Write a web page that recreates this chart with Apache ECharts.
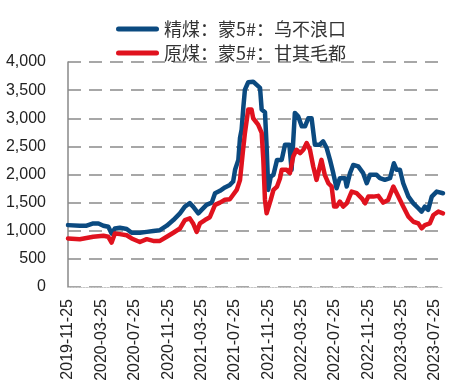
<!DOCTYPE html>
<html>
<head>
<meta charset="utf-8">
<script src="https://cdn.jsdelivr.net/npm/echarts@6/dist/echarts.min.js"></script>
<style>html,body{margin:0;padding:0;background:#fff}#c{width:450px;height:390px}</style>
</head>
<body>
<div id="c"></div>
<script>
var seriesNames = ['精煤：蒙5#：乌不浪口', '原煤：蒙5#：甘其毛都'];
var tickLabels = ['2019-11-25','2020-03-25','2020-07-25','2020-11-25','2021-03-25','2021-07-25','2021-11-25','2022-03-25','2022-07-25','2022-11-25','2023-03-25','2023-07-25'];
var axisStart = '2019-11-25';
var axisEnd = '2023-08-23';

var blueDates = ['2019-11-25','2020-01-07','2020-02-01','2020-02-25','2020-03-15','2020-04-02','2020-04-20','2020-05-02','2020-05-14','2020-06-01','2020-06-26','2020-07-14','2020-08-13','2020-09-07','2020-10-01','2020-10-25','2020-11-19','2020-12-13','2021-01-06','2021-01-24','2021-02-11','2021-02-23','2021-03-14','2021-03-26','2021-04-13','2021-05-02','2021-05-14','2021-06-01','2021-06-19','2021-07-07','2021-07-19','2021-07-26','2021-08-07','2021-08-13','2021-08-19','2021-08-25','2021-08-31','2021-09-12','2021-09-30','2021-10-04','2021-10-25','2021-10-31','2021-11-12','2021-11-18','2021-11-24','2021-12-03','2021-12-13','2021-12-26','2022-01-12','2022-01-24','2022-02-09','2022-02-17','2022-03-01','2022-03-13','2022-03-26','2022-04-07','2022-04-19','2022-05-01','2022-05-13','2022-05-31','2022-06-12','2022-06-25','2022-07-07','2022-07-19','2022-07-31','2022-08-12','2022-08-31','2022-09-06','2022-09-18','2022-09-30','2022-10-18','2022-11-05','2022-11-18','2022-11-30','2022-12-24','2023-01-05','2023-01-23','2023-02-11','2023-02-25','2023-03-07','2023-03-19','2023-03-31','2023-04-19','2023-05-07','2023-05-25','2023-06-06','2023-06-18','2023-06-30','2023-07-13','2023-07-31','2023-08-23'];
var blueVals = [1100,1090,1090,1130,1130,1090,1070,950,1040,1055,1030,965,965,980,995,1010,1090,1190,1310,1430,1490,1430,1310,1370,1460,1500,1667,1710,1770,1815,1875,2083,2260,2650,2800,3185,3510,3640,3650,3650,3540,3155,3107,2500,1726,1964,1994,2260,2260,2530,2530,2083,3095,3036,2857,2857,3000,3000,2530,2530,2589,2470,2260,2024,1756,1935,1935,1786,2024,2170,2143,2024,1845,1994,1994,1935,1905,1935,2200,2083,2083,1845,1607,1488,1400,1340,1430,1370,1607,1696,1667];

var redDates = ['2019-11-25','2020-01-07','2020-02-25','2020-04-02','2020-04-20','2020-05-02','2020-05-14','2020-06-01','2020-06-26','2020-07-14','2020-08-13','2020-09-07','2020-10-01','2020-10-25','2020-11-19','2020-12-13','2021-01-06','2021-01-24','2021-02-11','2021-02-23','2021-03-08','2021-03-20','2021-04-07','2021-04-25','2021-05-14','2021-06-01','2021-06-19','2021-07-07','2021-07-19','2021-08-01','2021-08-13','2021-08-23','2021-08-31','2021-09-12','2021-09-18','2021-09-24','2021-09-30','2021-10-18','2021-10-31','2021-11-06','2021-11-12','2021-11-18','2021-11-24','2021-12-03','2021-12-13','2021-12-26','2022-01-06','2022-01-12','2022-01-30','2022-02-11','2022-02-23','2022-03-07','2022-03-20','2022-04-01','2022-04-13','2022-04-25','2022-05-07','2022-05-19','2022-05-31','2022-06-06','2022-06-18','2022-07-01','2022-07-13','2022-07-22','2022-07-31','2022-08-12','2022-08-24','2022-09-06','2022-09-24','2022-10-12','2022-10-31','2022-11-12','2022-11-24','2022-12-12','2022-12-30','2023-01-17','2023-02-04','2023-02-23','2023-03-13','2023-03-31','2023-04-19','2023-05-07','2023-05-25','2023-06-06','2023-06-18','2023-07-06','2023-07-19','2023-08-06','2023-08-23'];
var redVals = [863,850,893,911,893,790,950,940,920,863,800,850,820,820,893,965,1040,1190,1220,1130,980,1130,1190,1240,1460,1500,1550,1560,1640,1726,1900,2380,2740,3155,3170,3155,3000,2887,2738,2260,1548,1310,1280,1548,1726,1786,1935,2083,2083,2024,2320,2440,2380,2440,2560,2440,2143,1905,2143,2260,1994,1845,1786,1430,1430,1518,1430,1488,1696,1667,1577,1488,1607,1607,1620,1500,1548,1786,1607,1430,1250,1160,1131,1042,1100,1131,1280,1340,1310];

var colors = ['#0B4A80', '#E0121E'];

// daily category list for the date axis
var days = [];
(function () {
  var d = new Date(axisStart + 'T00:00:00Z');
  var end = new Date(axisEnd + 'T00:00:00Z');
  while (d <= end) {
    days.push(d.toISOString().slice(0, 10));
    d.setUTCDate(d.getUTCDate() + 1);
  }
})();

function zip(ds, vs) { return ds.map(function (d, i) { return [d, vs[i]]; }); }

var capsule = 'path://M2.5,0 L40.5,0 A2.5,2.5 0 0 1 40.5,5 L2.5,5 A2.5,2.5 0 0 1 2.5,0 Z';

var chart = echarts.init(document.getElementById('c'), null, { renderer: 'canvas' });
chart.setOption({
  animation: false,
  color: colors,
  legend: {
    orient: 'vertical',
    left: 111,
    top: 15,
    itemGap: 6,
    itemWidth: 43,
    itemHeight: 5,
    icon: capsule,
    textStyle: { fontFamily: 'Noto Sans CJK SC', fontSize: 18, color: '#333', padding: [0, 0, 0, 0] },
    data: seriesNames
  },
  grid: { left: 68, right: 7, top: 62, bottom: 103, containLabel: false },
  xAxis: {
    type: 'category',
    data: days,
    boundaryGap: false,
    axisLine: { show: true, lineStyle: { color: '#c8c8c8', width: 1, type: [2, 1] } },
    axisTick: { show: false },
    splitLine: { show: false },
    axisLabel: {
      rotate: 90,
      margin: 12,
      interval: function (idx, val) { return tickLabels.indexOf(val) >= 0; },
      fontFamily: 'Liberation Sans',
      fontSize: 16,
      color: '#222'
    }
  },
  yAxis: {
    type: 'value',
    min: 0,
    max: 4000,
    interval: 500,
    axisLine: { show: true, lineStyle: { color: '#888', width: 1.5 } },
    axisTick: { show: false },
    splitLine: { show: true, lineStyle: { color: '#8a8a8a', width: 1.5, type: [13, 8] } },
    axisLabel: {
      margin: 22,
      fontFamily: 'Liberation Sans',
      fontSize: 16,
      color: '#222',
      formatter: function (v) { return v.toLocaleString('en-US'); }
    }
  },
  series: [
    {
      name: seriesNames[0], type: 'line', data: zip(blueDates, blueVals),
      showSymbol: false, symbol: 'none',
      lineStyle: { width: 4.5, color: colors[0], join: 'round', cap: 'round' }
    },
    {
      name: seriesNames[1], type: 'line', data: zip(redDates, redVals),
      showSymbol: false, symbol: 'none',
      lineStyle: { width: 4.5, color: colors[1], join: 'round', cap: 'round' }
    }
  ]
});
</script>
</body>
</html>
